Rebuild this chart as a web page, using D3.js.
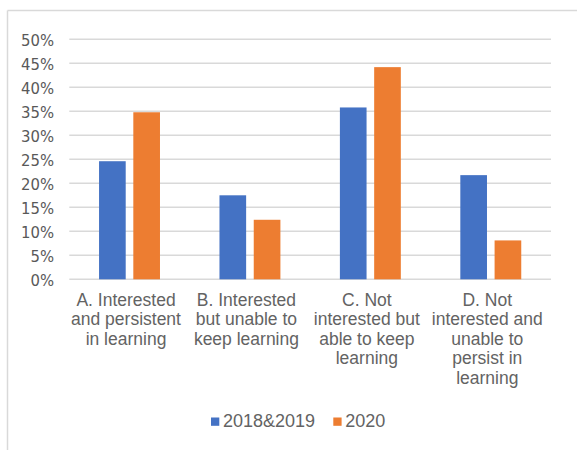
<!DOCTYPE html>
<html>
<head>
<meta charset="utf-8">
<script src="https://cdn.jsdelivr.net/npm/d3@7"></script>
<style>
  html, body { margin: 0; padding: 0; background: #fff; }
  svg { display: block; }
</style>
</head>
<body>
<svg id="chart" width="577" height="450"></svg>
<script>
const categories = [
  ["A. Interested", "and persistent", "in learning"],
  ["B. Interested", "but unable to", "keep learning"],
  ["C. Not", "interested but", "able to keep", "learning"],
  ["D. Not", "interested and", "unable to", "persist in", "learning"]
];
const categoryKeys = ["A", "B", "C", "D"];
const seriesNames = ["2018&2019", "2020"];
const series2018_2019 = [24.6, 17.5, 35.8, 21.7];
const series2020 = [34.8, 12.4, 44.2, 8.1];
const yTicks = [0, 5, 10, 15, 20, 25, 30, 35, 40, 45, 50];
const colors = ["#4472C4", "#ED7D31"];

const svg = d3.select("#chart");
const W = 577, H = 450;
const plot = { left: 69.3, right: 551, top: 39.3, bottom: 279.3 };

// outer frame (top and left edges visible)
svg.append("line").attr("x1", 7.5).attr("x2", W).attr("y1", 10.5).attr("y2", 10.5)
  .attr("stroke", "#d9d9d9").attr("stroke-width", 1.5);
svg.append("line").attr("x1", 7.5).attr("x2", 7.5).attr("y1", 10.5).attr("y2", H)
  .attr("stroke", "#d9d9d9").attr("stroke-width", 1.5);

const y = d3.scaleLinear().domain([0, 50]).range([plot.bottom, plot.top]);
const x0 = d3.scaleBand().domain(categoryKeys).range([plot.left, plot.right]).padding(0);
const x1 = d3.scaleBand().domain(seriesNames).range([0, x0.bandwidth()])
  .paddingInner(0.222).paddingOuter(0.868);

// gridlines
svg.append("g").selectAll("line").data(yTicks).join("line")
  .attr("x1", plot.left).attr("x2", plot.right)
  .attr("y1", d => y(d)).attr("y2", d => y(d))
  .attr("stroke", "#d9d9d9").attr("stroke-width", 1.5);

// y axis labels
const yAxis = d3.axisLeft(y).tickValues(yTicks).tickFormat(d => d + "%").tickSize(0).tickPadding(0);
const yg = svg.append("g").attr("transform", `translate(54,0)`).call(yAxis);
yg.select(".domain").remove();
yg.selectAll("text")
  .attr("fill", "#595959")
  .attr("dy", "0.36em")
  .style("font-family", "'Liberation Sans Narrow', 'DejaVu Sans Condensed', 'Liberation Sans', sans-serif")
  .style("font-size", "16.5px");

// bars
const data = categoryKeys.map((k, i) => ({ key: k, values: [series2018_2019[i], series2020[i]] }));
const groups = svg.append("g").selectAll("g").data(data).join("g")
  .attr("transform", d => `translate(${x0(d.key)},0)`);
groups.selectAll("rect").data(d => d.values.map((v, j) => ({ name: seriesNames[j], v, j })))
  .join("rect")
  .attr("x", d => x1(d.name))
  .attr("width", x1.bandwidth())
  .attr("y", d => y(d.v))
  .attr("height", d => y(0) - y(d.v))
  .attr("fill", d => colors[d.j]);

// category labels
const labelG = svg.append("g")
  .style("font-family", "'Liberation Sans', Arial, sans-serif")
  .style("font-size", "17.5px")
  .attr("fill", "#636363")
  .attr("text-anchor", "middle");
categories.forEach((lines, i) => {
  const cx = x0(categoryKeys[i]) + x0.bandwidth() / 2 - 3.5;
  const t = labelG.append("text").attr("x", cx).attr("y", 305.5);
  lines.forEach((ln, k) => {
    t.append("tspan").attr("x", cx).attr("y", 305.5 + k * 19.6).text(ln);
  });
});

// legend
const legend = svg.append("g")
  .style("font-family", "'Liberation Sans', Arial, sans-serif")
  .style("font-size", "18px")
  .attr("fill", "#636363");
const legendX = [211, 333.3];
seriesNames.forEach((name, j) => {
  legend.append("rect").attr("x", legendX[j]).attr("y", 417.5).attr("width", 8.3).attr("height", 8.3)
    .attr("fill", colors[j]);
  legend.append("text").attr("x", legendX[j] + 12).attr("y", 427.3).text(name);
});
</script>
</body>
</html>
